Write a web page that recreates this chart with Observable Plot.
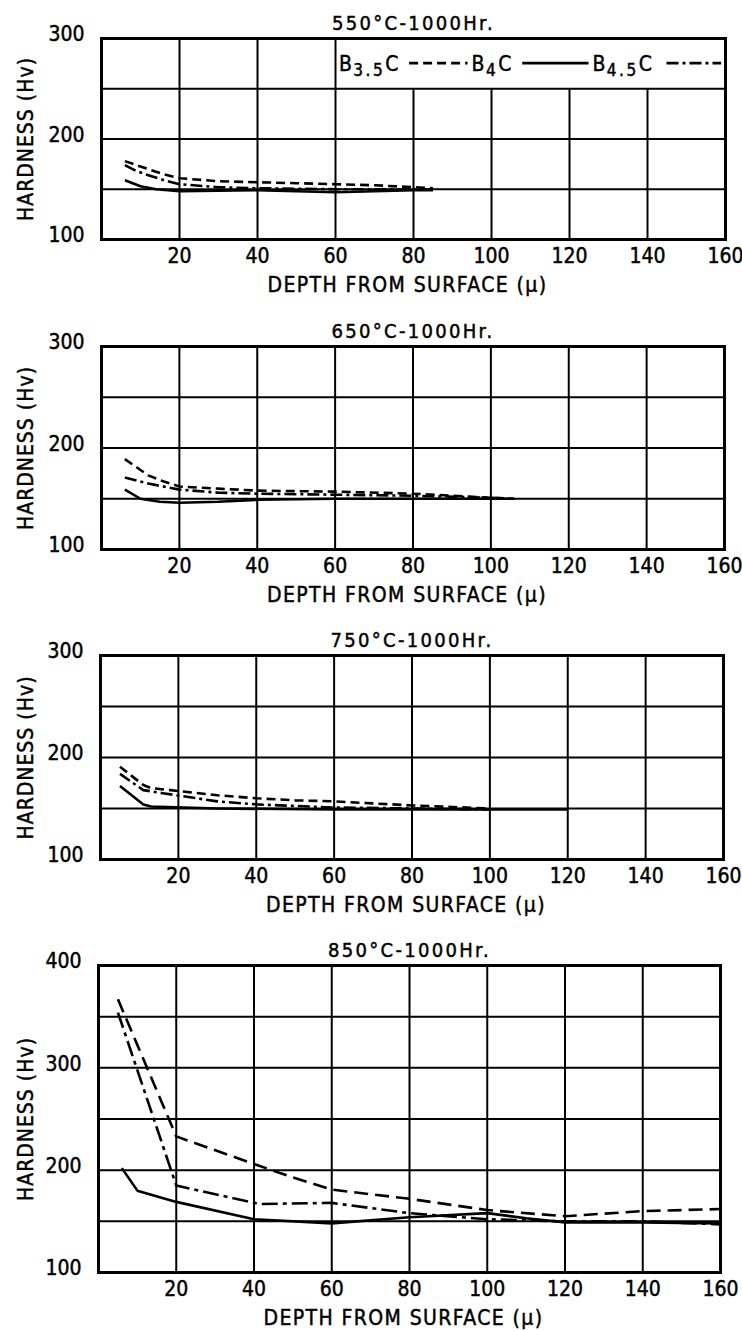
<!DOCTYPE html>
<html><head><meta charset="utf-8">
<script src="https://cdn.jsdelivr.net/npm/d3@7"></script>
<script src="https://cdn.jsdelivr.net/npm/@observablehq/plot@0.6"></script>
<style>
body{margin:0;background:#fff;}
#chart{width:742px;}
#chart svg{display:block;}
#chart svg text{stroke:#000;stroke-width:0.45px;}
</style></head><body><div id="chart"></div>
<script>
// ---- data ----
const seriesNames = ["B3.5C", "B4C", "B4.5C"];
const titles = ["550°C-1000Hr.", "650°C-1000Hr.", "750°C-1000Hr.", "850°C-1000Hr."];
const xLabel = "DEPTH FROM SURFACE (μ)";
const yLabel = "HARDNESS (Hv)";
const xTickLabels = [20, 40, 60, 80, 100, 120, 140, 160];
const xGridValues = [20, 40, 60, 80, 100, 120, 140];
const yTickLabels300 = [100, 200, 300];
const yTickLabels400 = [100, 200, 300, 400];
const yGrid300 = [150, 200, 250];
const yGrid400 = [150, 200, 250, 300, 350];

// [depth (μ), hardness (Hv)]
const hv550_B35C = [[6,178],[9,174],[12,170],[16,165],[20,161],[30,158],[40,157],[50,156],[60,155],[70,154],[80,152],[85,151]];
const hv550_B4C  = [[6,159],[10,153],[14,150],[20,148],[40,149],[60,147],[80,149],[85,149]];
const hv550_B45C = [[6,174],[9,168],[12,164],[16,159],[20,155],[30,152],[40,151],[60,150],[80,150],[85,150]];

const hv650_B35C = [[6,189],[9,181],[12,173],[16,167],[20,162],[30,160],[40,158],[60,157],[80,155],[100,151],[106,150]];
const hv650_B4C  = [[6,159],[10,150],[15,147],[20,146],[30,147],[40,149],[60,150],[80,150],[100,150],[106,150]];
const hv650_B45C = [[6,171],[12,165],[20,159],[30,156],[40,155],[60,154],[80,153],[100,151],[106,150]];

const hv750_B35C = [[5,191],[8,182],[11,173],[13,170],[18,168],[30,163],[40,160],[50,158],[60,157],[70,155],[80,153],[100,150]];
const hv750_B4C  = [[5,172],[8,163],[11,154],[13,152],[30,150],[60,149],[80,149],[100,149],[120,149]];
const hv750_B45C = [[5,184],[8,176],[11,168],[16,165],[30,157],[40,154],[60,151],[80,150],[100,149]];

const hv850_B35C = [[5,367],[20,233],[40,206],[50,193],[60,181],[80,172],[100,161],[120,155],[140,160],[160,162]];
const hv850_B4C  = [[6,202],[10,180],[20,169],[40,152],[60,148],[80,154],[100,158],[110,153],[120,149],[140,149],[160,148]];
const hv850_B45C = [[5,354],[20,185],[40,168],[42,167],[60,168],[80,158],[100,152],[120,150],[140,150],[160,147]];

// ---- layout / style ----
const FONT = "'DejaVu Sans Condensed', 'Liberation Sans Narrow', 'DejaVu Sans', sans-serif";
const panels = [
  {title: titles[0], data: [hv550_B35C, hv550_B4C, hv550_B45C], yMax: 300, yTicks: yTickLabels300, yGrid: yGrid300,
   height: 310, mt: 38, mb: 71, ml: 101, mr: 17, legend: true, big: false},
  {title: titles[1], data: [hv650_B35C, hv650_B4C, hv650_B45C], yMax: 300, yTicks: yTickLabels300, yGrid: yGrid300,
   height: 310, mt: 36, mb: 71, ml: 101, mr: 18, legend: false, big: false},
  {title: titles[2], data: [hv750_B35C, hv750_B4C, hv750_B45C], yMax: 300, yTicks: yTickLabels300, yGrid: yGrid300,
   height: 305, mt: 35, mb: 66, ml: 100, mr: 19, legend: false, big: false},
  {title: titles[3], data: [hv850_B35C, hv850_B4C, hv850_B45C], yMax: 400, yTicks: yTickLabels400, yGrid: yGrid400,
   height: 406, mt: 40, mb: 59, ml: 98, mr: 22, legend: false, big: true}
];

function dashFor(i, big) {
  if (i === 0) return big ? "14,7" : "9,5";
  if (i === 1) return null;
  return big ? "16,5,4,5" : "12,4,3,4";
}

function makePanel(p) {
  const marks = [];
  marks.push(Plot.ruleY(p.yGrid, {stroke: "#000", strokeWidth: 2}));
  if (p.legend) {
    marks.push(Plot.ruleX(xGridValues.filter(v => v <= 60), {stroke: "#000", strokeWidth: 2}));
    marks.push(Plot.ruleX(xGridValues.filter(v => v > 60), {y1: 100, y2: 250, stroke: "#000", strokeWidth: 2}));
  } else {
    marks.push(Plot.ruleX(xGridValues, {stroke: "#000", strokeWidth: 2}));
  }
  p.data.forEach((arr, i) => {
    marks.push(Plot.line(arr, {x: d => d[0], y: d => d[1], stroke: "#000", strokeWidth: 2.6,
      strokeDasharray: dashFor(i, p.big), strokeLinecap: "butt", strokeLinejoin: "round"}));
  });
  marks.push(Plot.frame({stroke: "#000", strokeWidth: 3}));
  marks.push(Plot.axisX({ticks: xTickLabels, tickSize: 0, tickPadding: 9, label: null, fontSize: 21}));
  marks.push(Plot.axisY({ticks: p.yTicks, tickSize: 0, tickPadding: 17, label: null, fontSize: 21, dy: -4}));
  marks.push(Plot.text([p.title], {text: d => d, frameAnchor: "top", dy: -15, lineAnchor: "middle", fontSize: 20}));
  marks.push(Plot.text([xLabel], {text: d => d, frameAnchor: "bottom", dy: 46, dx: -6, lineAnchor: "middle", fontSize: 21}));
  marks.push(Plot.text([yLabel], {text: d => d, frameAnchor: "left", textAnchor: "middle", dx: -(p.ml - 26), rotate: -90,
    lineAnchor: "middle", fontSize: 21}));

  const plot = Plot.plot({
    width: 742, height: p.height,
    marginTop: p.mt, marginBottom: p.mb, marginLeft: p.ml, marginRight: p.mr,
    x: {domain: [0, 160]},
    y: {domain: [100, p.yMax]},
    style: {fontFamily: FONT, fontSize: "21px", color: "#000", background: "#fff", overflow: "visible"},
    marks
  });
  const sel = d3.select(plot).selectAll("text");
  sel.filter(function() { return this.textContent === p.title; }).style("letter-spacing", "2.3px");
  sel.filter(function() { return this.textContent === xLabel; }).style("letter-spacing", "1.4px");
  sel.filter(function() { return this.textContent === yLabel; }).style("letter-spacing", "1px");
  if (p.legend) addLegend(plot);
  return plot;
}

function addLegend(plot) {
  const sx = plot.scale("x"), sy = plot.scale("y");
  const X = v => sx.apply(v);
  const yc = sy.apply(275);
  const g = d3.select(plot).append("g")
    .attr("font-family", FONT).attr("font-size", 21).attr("fill", "#000")
    .attr("text-anchor", "start").style("letter-spacing", "1.5px");
  // legend item placement (data-x of label start, sample start, sample end)
  const place = [[61, 79, 94], [95, 108, 125], [126, 145, 159]];
  seriesNames.forEach((name, i) => {
    const m = name.match(/^B([\d.]+)C$/);
    const t = g.append("text").attr("x", X(place[i][0])).attr("y", yc + 8);
    t.append("tspan").text("B");
    t.append("tspan").attr("font-size", 17).attr("dy", 5).style("letter-spacing", "2.5px").text(m[1]);
    t.append("tspan").attr("dy", -5).text("C");
    g.append("line")
      .attr("x1", X(place[i][1])).attr("x2", X(place[i][2]))
      .attr("y1", yc).attr("y2", yc)
      .attr("stroke", "#000").attr("stroke-width", 2.6)
      .attr("stroke-dasharray", dashFor(i, false));
  });
}

const root = document.getElementById("chart");
panels.forEach(p => root.appendChild(makePanel(p)));
</script>
</body></html>
